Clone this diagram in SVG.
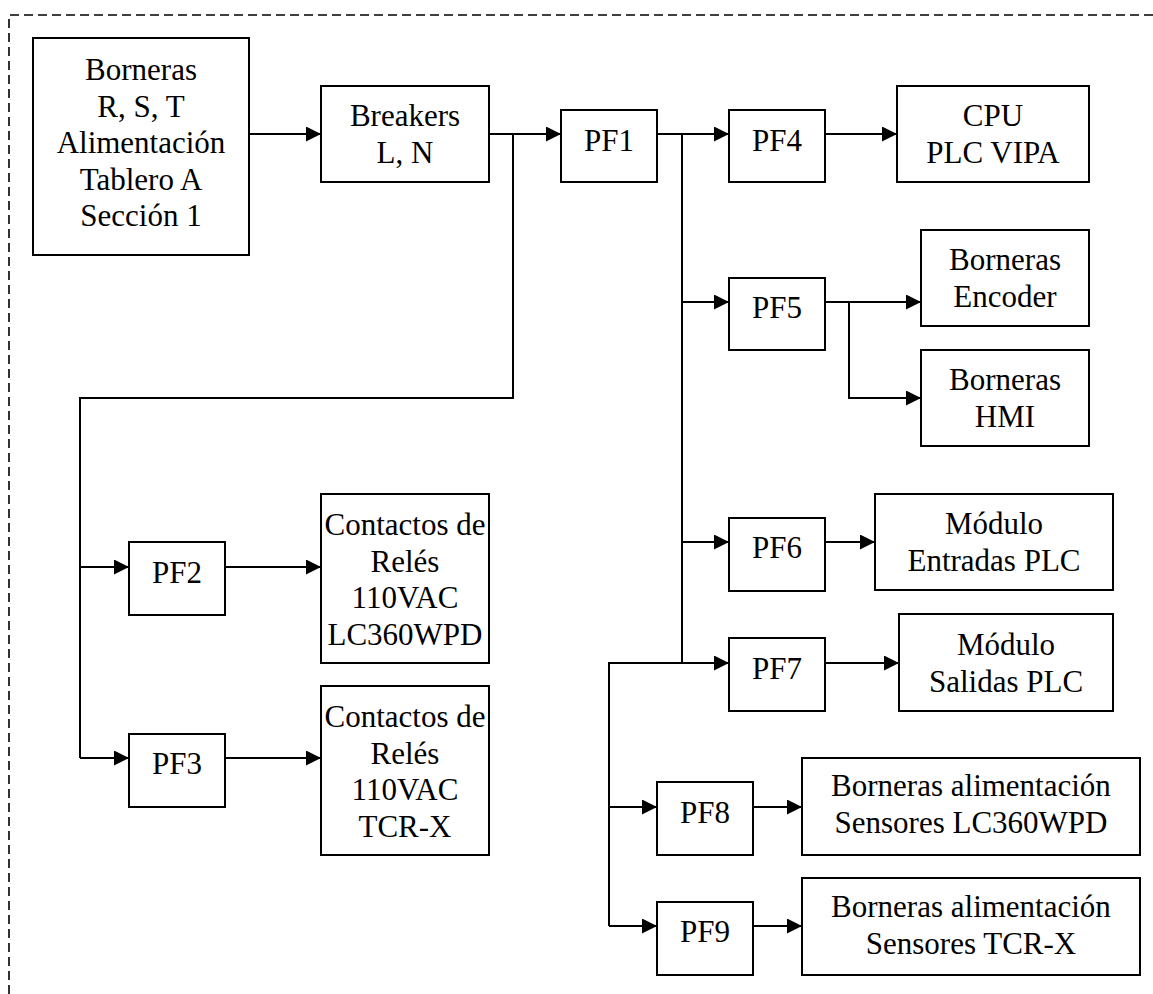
<svg xmlns="http://www.w3.org/2000/svg" width="1153" height="994" viewBox="0 0 1153 994">
  <style>
    .box { fill: #fff; stroke: #000; stroke-width: 2; }
    .wire { fill: none; stroke: #000; stroke-width: 2; }
    .frame { fill: none; stroke: #000; stroke-width: 1.6; stroke-dasharray: 9 5; }
    text { font-family: "Liberation Serif", "Times New Roman", serif; font-size: 31px; fill: #000; text-anchor: middle; }
  </style>
  <defs>
    <marker id="arrow" markerUnits="userSpaceOnUse" markerWidth="15" markerHeight="15" refX="15" refY="7.5" orient="auto">
      <path d="M0,0 L15,7.5 L0,15 Z" fill="#000"/>
    </marker>
  </defs>
  <rect width="1153" height="994" fill="#fff"/>

  <!-- dashed enclosure (top and left sides) -->
  <path class="frame" d="M9,994 L9,15 L1153,15"/>

  <!-- connectors -->
  <g id="connectors">
    <line class="wire" x1="249" y1="134" x2="321" y2="134" marker-end="url(#arrow)"/>
    <line class="wire" x1="489" y1="134" x2="561" y2="134" marker-end="url(#arrow)"/>
    <path class="wire" d="M513,134 L513,398 L80,398 L80,758"/>
    <line class="wire" x1="80" y1="567" x2="129" y2="567" marker-end="url(#arrow)"/>
    <line class="wire" x1="80" y1="758" x2="129" y2="758" marker-end="url(#arrow)"/>
    <line class="wire" x1="225" y1="567" x2="321" y2="567" marker-end="url(#arrow)"/>
    <line class="wire" x1="225" y1="758" x2="321" y2="758" marker-end="url(#arrow)"/>

    <line class="wire" x1="657" y1="134" x2="729" y2="134" marker-end="url(#arrow)"/>
    <path class="wire" d="M682,134 L682,663 L609,663 L609,926"/>
    <line class="wire" x1="825" y1="134" x2="897" y2="134" marker-end="url(#arrow)"/>
    <line class="wire" x1="682" y1="302" x2="729" y2="302" marker-end="url(#arrow)"/>
    <line class="wire" x1="825" y1="302" x2="921" y2="302" marker-end="url(#arrow)"/>
    <path class="wire" d="M849,302 L849,398 L921,398" marker-end="url(#arrow)"/>
    <line class="wire" x1="682" y1="542" x2="729" y2="542" marker-end="url(#arrow)"/>
    <line class="wire" x1="825" y1="542" x2="875" y2="542" marker-end="url(#arrow)"/>
    <line class="wire" x1="682" y1="663" x2="729" y2="663" marker-end="url(#arrow)"/>
    <line class="wire" x1="825" y1="663" x2="899" y2="663" marker-end="url(#arrow)"/>
    <line class="wire" x1="609" y1="807" x2="657" y2="807" marker-end="url(#arrow)"/>
    <line class="wire" x1="753" y1="807" x2="802" y2="807" marker-end="url(#arrow)"/>
    <line class="wire" x1="609" y1="926" x2="657" y2="926" marker-end="url(#arrow)"/>
    <line class="wire" x1="753" y1="926" x2="802" y2="926" marker-end="url(#arrow)"/>
  </g>

  <g id="alimentacion">
    <rect class="box" x="33" y="38" width="216" height="217"/>
    <text x="141" y="80">Borneras</text>
    <text x="141" y="117">R, S, T</text>
    <text x="141" y="153">Alimentación</text>
    <text x="141" y="190">Tablero A</text>
    <text x="141" y="226">Sección 1</text>
  </g>
  <g id="breakers">
    <rect class="box" x="321" y="86" width="168" height="96"/>
    <text x="405" y="126">Breakers</text>
    <text x="405" y="163">L, N</text>
  </g>
  <g id="pf1">
    <rect class="box" x="561" y="110" width="96" height="72"/>
    <text x="609" y="151">PF1</text>
  </g>
  <g id="pf4">
    <rect class="box" x="729" y="110" width="96" height="72"/>
    <text x="777" y="151">PF4</text>
  </g>
  <g id="cpu">
    <rect class="box" x="897" y="86" width="192" height="96"/>
    <text x="993" y="126">CPU</text>
    <text x="993" y="163">PLC VIPA</text>
  </g>
  <g id="pf5">
    <rect class="box" x="729" y="278" width="96" height="72"/>
    <text x="777" y="318">PF5</text>
  </g>
  <g id="encoder">
    <rect class="box" x="921" y="230" width="168" height="96"/>
    <text x="1005" y="270">Borneras</text>
    <text x="1005" y="307">Encoder</text>
  </g>
  <g id="hmi">
    <rect class="box" x="921" y="350" width="168" height="96"/>
    <text x="1005" y="390">Borneras</text>
    <text x="1005" y="427">HMI</text>
  </g>
  <g id="pf2">
    <rect class="box" x="129" y="542" width="96" height="73"/>
    <text x="177" y="583">PF2</text>
  </g>
  <g id="reles-lc360wpd">
    <rect class="box" x="321" y="494" width="168" height="169"/>
    <text x="405" y="535">Contactos de</text>
    <text x="405" y="572">Relés</text>
    <text x="405" y="608">110VAC</text>
    <text x="405" y="645">LC360WPD</text>
  </g>
  <g id="pf3">
    <rect class="box" x="129" y="734" width="96" height="73"/>
    <text x="177" y="774">PF3</text>
  </g>
  <g id="reles-tcrx">
    <rect class="box" x="321" y="686" width="168" height="169"/>
    <text x="405" y="727">Contactos de</text>
    <text x="405" y="764">Relés</text>
    <text x="405" y="800">110VAC</text>
    <text x="405" y="837">TCR-X</text>
  </g>
  <g id="pf6">
    <rect class="box" x="729" y="518" width="96" height="73"/>
    <text x="777" y="558">PF6</text>
  </g>
  <g id="entradas">
    <rect class="box" x="875" y="494" width="238" height="96"/>
    <text x="994" y="534">Módulo</text>
    <text x="994" y="571">Entradas PLC</text>
  </g>
  <g id="pf7">
    <rect class="box" x="729" y="638" width="96" height="73"/>
    <text x="777" y="679">PF7</text>
  </g>
  <g id="salidas">
    <rect class="box" x="899" y="614" width="214" height="97"/>
    <text x="1006" y="655">Módulo</text>
    <text x="1006" y="692">Salidas PLC</text>
  </g>
  <g id="pf8">
    <rect class="box" x="657" y="782" width="96" height="73"/>
    <text x="705" y="823">PF8</text>
  </g>
  <g id="sensores-lc360wpd">
    <rect class="box" x="802" y="758" width="338" height="97"/>
    <text x="971" y="796">Borneras alimentación</text>
    <text x="971" y="833">Sensores LC360WPD</text>
  </g>
  <g id="pf9">
    <rect class="box" x="657" y="902" width="96" height="73"/>
    <text x="705" y="942">PF9</text>
  </g>
  <g id="sensores-tcrx">
    <rect class="box" x="802" y="878" width="338" height="97"/>
    <text x="971" y="917">Borneras alimentación</text>
    <text x="971" y="954">Sensores TCR-X</text>
  </g>
</svg>
